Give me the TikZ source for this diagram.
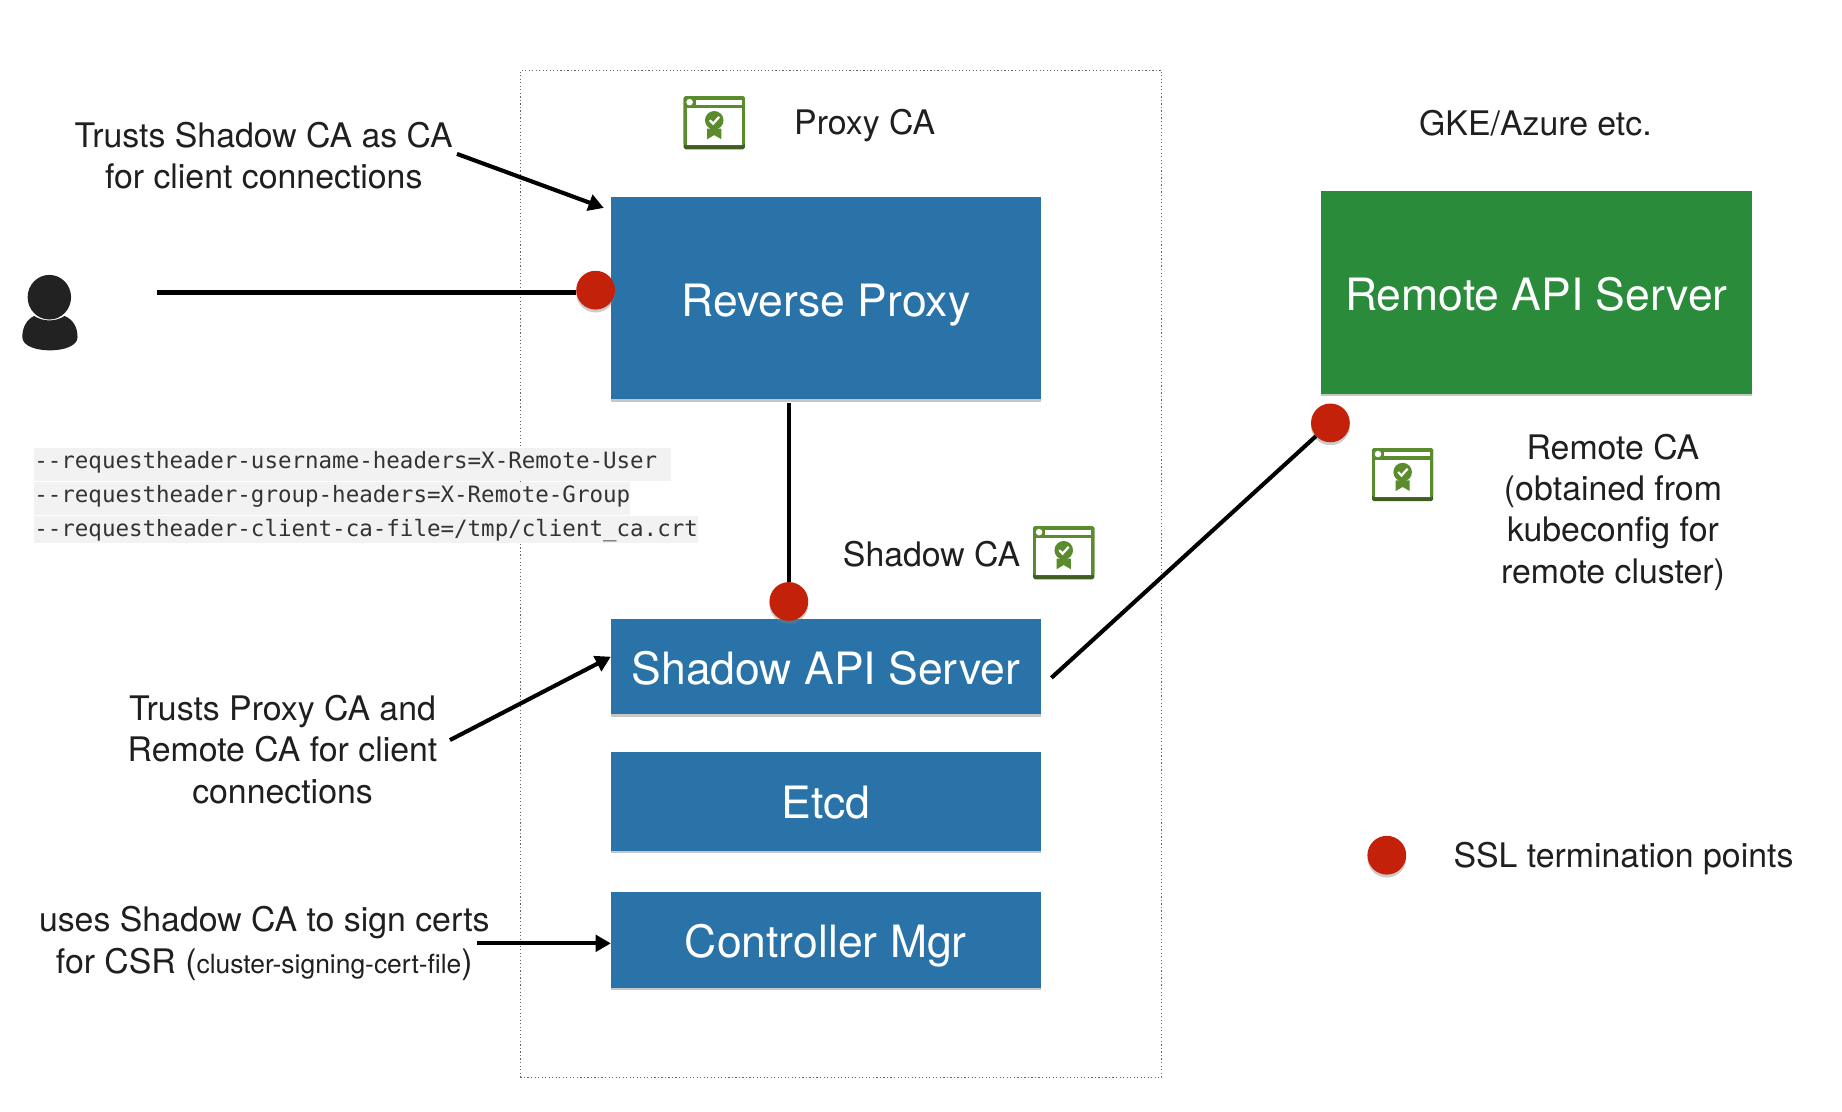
\documentclass[tikz,border=0pt]{standalone}
\usepackage{fontspec}
\setmainfont{TeX Gyre Heros}
\setmonofont{DejaVu Sans Mono}
\usepackage{xcolor}
\usetikzlibrary{positioning}
\usetikzlibrary{shadows}
\usetikzlibrary{shapes.geometric}
\usetikzlibrary{arrows.meta}
\definecolor{boxblue}{HTML}{2A73A8}
\definecolor{boxgreen}{HTML}{2A8B3B}
\definecolor{dotred}{HTML}{C4210A}
\definecolor{icongreen}{HTML}{5A8C2E}
\definecolor{icondark}{HTML}{3F5E22}
\definecolor{codegray}{HTML}{F2F2F2}
\definecolor{persongray}{HTML}{222222}
\tikzset{
  bigbox/.style={minimum width=366pt, inner sep=0pt, outer sep=0pt, text=white, font=\fontsize{37.9}{44}\selectfont,
    text height=30pt, text depth=0pt,
    drop shadow={shadow xshift=0pt, shadow yshift=-2pt, opacity=.45}},
  note/.style={align=center, inner sep=0pt, text=black!88, font=\fontsize{28.8}{35.3}\selectfont},
  termdot/.style={circle, fill=dotred, minimum size=33pt, inner sep=0pt,
    drop shadow={shadow xshift=0pt, shadow yshift=-2.5pt, opacity=.4}},
  codeline/.style={anchor=north west, fill=codegray, inner sep=0pt, text=black!80,
    font=\fontsize{19.15}{23}\ttfamily, text height=17.6pt, text depth=11pt},
  conn/.style={line width=3.5pt},
  arrowconn/.style={line width=3.5pt, -{Triangle[length=13pt, width=14pt]}},
  certicon/.pic={
    \fill [icondark, rounded corners=1.5pt] (-26,-22.6) rectangle (26,22.6);
    \fill [icongreen, rounded corners=1.5pt] (-26,-22.6) rectangle (26,19.3);
    \fill [white] (-23.5,-12.7) rectangle (23.5,19.3);
    \fill [white] (-15.7,-19.2) rectangle (23.5,-15.5);
    \fill [white] (-21,-17.5) circle (2.8pt);
    \fill [icongreen] (-6,5) -- (6,5) -- (6,14) -- (0,10.5) -- (-6,14) -- cycle;
    \fill [icongreen] (0,-2.1) circle (7.9pt);
    \draw [white, line width=1.9pt] (-3.8,-2.2) -- (-1,0.8) -- (4.2,-5);
  }
}
\begin{document}
\begin{tikzpicture}[x=1pt, y=-1pt]
\useasboundingbox (0,0) rectangle (1568,945.8);
% dotted frame
\node (frame) [draw=black!60, dotted, line width=1pt, minimum width=546pt, minimum height=857pt, inner sep=0pt] at (716,488.5) {};
% boxes
\node (reverse) [bigbox, fill=boxblue, minimum height=172pt] at (703,254) {Reverse Proxy};
\node (shadow) [bigbox, fill=boxblue, minimum height=81pt, below=187pt of reverse] {Shadow API Server};
\node (etcd) [bigbox, fill=boxblue, minimum height=84pt, below=32pt of shadow] {Etcd};
\node (ctrl) [bigbox, fill=boxblue, minimum height=82pt, below=35pt of etcd] {Controller Mgr};
\node (remote) [bigbox, fill=boxgreen, minimum height=172pt, minimum width=366.6pt] at (1307.8,249) {Remote API Server};
% flags
\node (code1) [codeline] at (29,381) {-{}-requestheader-username-headers=X-Remote-User\rule{11.5pt}{0pt}};
\node (code2) [codeline] at (code1.south west) {-{}-requestheader-group-headers=X-Remote-Group};
\node (code3) [codeline, text depth=5pt] at (code2.south west) {-{}-requestheader-client-ca-file=/tmp/client\_ca.crt};
% termination points
\node (dotuser) [termdot] at (507,247) {};
\node (dotshadow) [termdot] at (671.5,512) {};
\node (dotremote) [termdot] at (1132.5,360) {};
\node (dotlegend) [termdot] at (1180.5,728) {};
% icons
\pic at (608,104.5) {certicon};
\pic at (905.5,470.5) {certicon};
\pic at (1194,404) {certicon};
% user
\node (userhead) [ellipse, fill=persongray, minimum width=37pt, minimum height=38pt, inner sep=0pt] at (42,253) {};
\fill [persongray] (19,287) .. controls (19,278) and (23,272) .. (29,269) .. controls (37,274) and (47,274) .. (55,269) .. controls (62,272) and (66,278) .. (66,287) .. controls (66,302) and (19,302) .. (19,287) -- cycle;
% labels
\node (proxyca) [note] at (736,107) {Proxy CA};
\node (gke) [note] at (1307,105) {GKE/Azure etc.};
\node (shadowca) [note] at (793,472) {Shadow CA};
\node (remoteca) [note] at (1373,436) {Remote CA\\(obtained from\\kubeconfig for\\remote cluster)};
\node (legend) [note] at (1382,731) {SSL termination points};
\node (trustshadow) [note] at (224.5,132.5) {Trusts Shadow CA as CA\\for client connections};
\node (trustproxy) [note] at (240.5,638) {Trusts Proxy CA and\\Remote CA for client\\connections};
\node (signcsr) [note] at (225,803) {uses Shadow CA to sign certs\\for CSR ({\fontsize{22.5}{35.3}\selectfont cluster-signing-cert-file})};
% connectors
\coordinate (userend) at (134,249);
\coordinate (trustout) at (389,131);
\coordinate (trustin) at (514,177);
\coordinate (proxyout) at (383,630);
\coordinate (proxyin) at (520,559);
\coordinate (signout) at (406,803);
\coordinate (shadowout) at (895,577);
\draw [conn] (userend) -- (dotuser.west |- userend);
\draw [conn, shorten <=3pt] (reverse.south -| dotshadow) -- (dotshadow);
\draw [conn] (shadowout) -- (dotremote);
\draw [arrowconn] (trustout) -- (trustin);
\draw [arrowconn] (proxyout) -- (proxyin);
\draw [arrowconn] (signout) -- (signout -| ctrl.west);
\end{tikzpicture}
\end{document}
